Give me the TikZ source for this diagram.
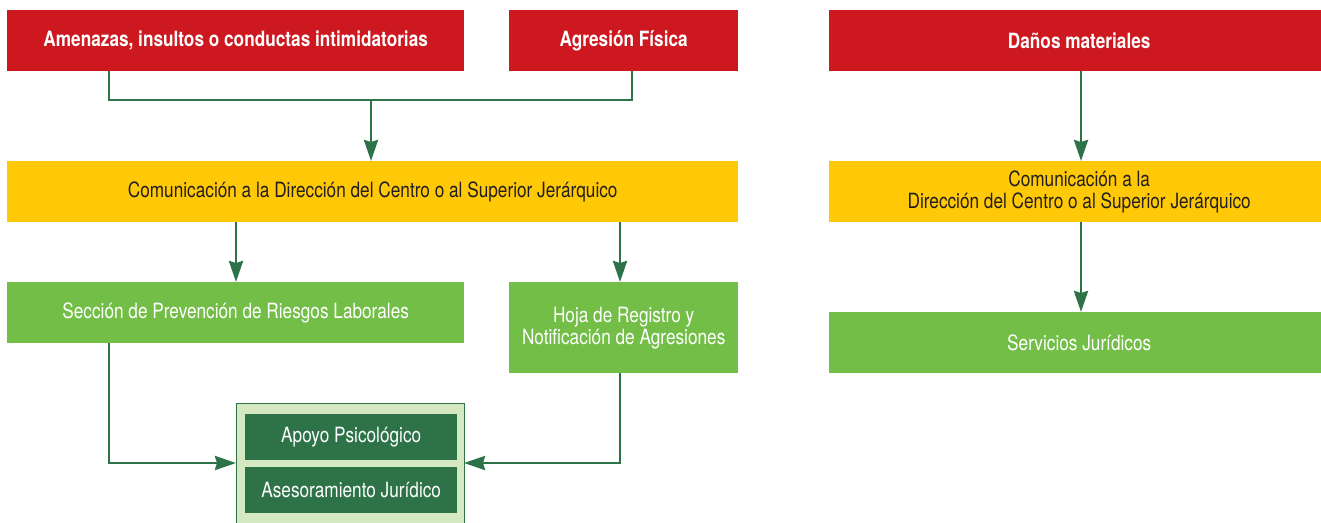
\documentclass[tikz,border=0pt]{standalone}
\usepackage{fontspec}
\setmainfont{TeX Gyre Heros}[FakeStretch=0.82]
\usepackage{pgf,tikz}
\usetikzlibrary{arrows,arrows.meta}
\usetikzlibrary{positioning}
\definecolor{rojo}{HTML}{CD1820}
\definecolor{amarillo}{HTML}{FFC907}
\definecolor{verde}{HTML}{72BE46}
\definecolor{verdeosc}{HTML}{2E7348}
\definecolor{verdeclaro}{HTML}{D4E9C1}
\definecolor{texto}{HTML}{231F20}

\begin{document}
\begin{tikzpicture}[x=1pt, y=-1pt,
	caja/.style={anchor=north west, inner sep=0pt, align=center, font=\fontsize{21}{22}\selectfont},
	roja/.style={caja, fill=rojo, text=white, font=\fontsize{21}{22}\selectfont\bfseries, minimum height=61pt},
	amar/.style={caja, fill=amarillo, text=texto, minimum height=61pt},
	verd/.style={caja, fill=verde, text=white},
	oscura/.style={caja, fill=verdeosc, text=white, minimum width=212pt, minimum height=46pt},
	flecha/.style={draw=verdeosc, line width=2.8pt, -{Stealth[length=21pt, width=14pt, inset=2pt]}},
	linea/.style={draw=verdeosc, line width=2.8pt}]
	\useasboundingbox (0,0) rectangle (1321,522);
%	primera fila
	\node [roja, minimum width=457pt] (amenazas) at (7,10) {Amenazas, insultos o conductas intimidatorias};
	\node [roja, minimum width=229pt] (agresion) at (509,10) {Agresión Física};
	\node [roja, minimum width=500pt] (danos) at (829,10) {Daños materiales};
%	segunda fila
	\node [amar, minimum width=731pt] (comun) at (7,161) {Comunicación a la Dirección del Centro o al Superior Jerárquico};
	\node [amar, minimum width=500pt] (comunb) at (829,161) {Comunicación a la\\Dirección del Centro o al Superior Jerárquico};
%	tercera fila
	\node [verd, minimum width=457pt, minimum height=61pt] (seccion) at (7,282) {Sección de Prevención de Riesgos Laborales};
	\node [verd, minimum width=229pt, minimum height=91pt] (hoja) at (509,282) {Hoja de Registro y\\Notificación de Agresiones};
	\node [verd, minimum width=500pt, minimum height=61pt] (servicios) at (829,312) {Servicios Jurídicos};
%	apoyo
	\path [fill=verdeclaro, draw=verdeosc, line width=1pt] (236,403) rectangle (464,530);
	\coordinate (apoyoizq) at (236,463);
	\coordinate (apoyoder) at (464,463);
	\node [oscura] (apoyo) at (245,414) {Apoyo Psicológico};
	\node [oscura] (asesor) at (245,467) {Asesoramiento Jurídico};
%	conectores
	\coordinate (union) at (371,100);
	\draw [linea] (amenazas.south -| 109,0) |- (union) -| (agresion.south -| 632,0);
	\draw [flecha] (union) -- (union |- comun.north);
	\draw [flecha] (comun.south -| 236,0) -- (seccion.north -| 236,0);
	\draw [flecha] (comun.south -| 620,0) -- (hoja.north -| 620,0);
	\draw [flecha] (seccion.south -| 109,0) |- (apoyoizq);
	\draw [flecha] (hoja.south -| 620,0) |- (apoyoder);
	\draw [flecha] (danos.south -| 1081,0) -- (comunb.north -| 1081,0);
	\draw [flecha] (comunb.south -| 1081,0) -- (servicios.north -| 1081,0);
\end{tikzpicture}
\end{document}
